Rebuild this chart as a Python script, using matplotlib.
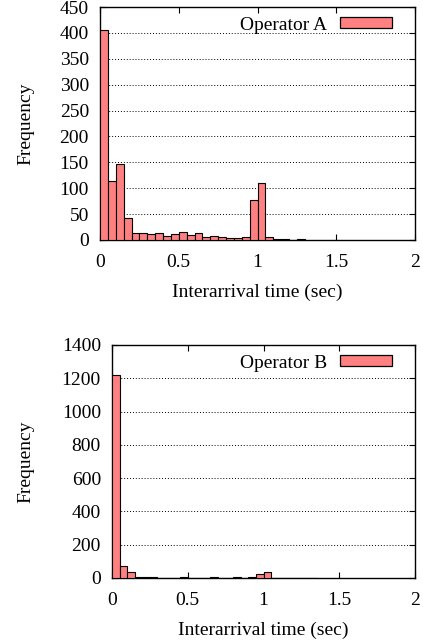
import numpy as np
import matplotlib
matplotlib.use("Agg")
import matplotlib.pyplot as plt
from matplotlib.patches import Patch

plt.rcParams['font.family'] = ['Liberation Serif', 'DejaVu Serif']
plt.rcParams['font.size'] = 14

bin_width = 0.05
# histogram counts per 0.05 s bin, starting at 0
counts_a = [406, 114, 146, 43, 14, 14, 12, 13, 8, 11, 15, 9, 14, 6, 8, 6, 4, 4, 6,
            78, 111, 6, 2, 2, 0, 2]
counts_b = [1222, 74, 38, 5, 5, 4, 3, 2, 3, 4, 2, 3, 3, 5, 3, 3, 4, 3, 4,
            26, 38, 3, 2, 1, 1, 2, 1]
labels = ["Operator A", "Operator B"]
x_ticks = [0, 0.5, 1, 1.5, 2]

bar_color = '#ff8080'
W, H = 423, 640

fig = plt.figure(figsize=(W / 100, H / 100), dpi=100)
ax1 = fig.add_axes([100 / W, 1 - 240 / H, 315 / W, 233 / H])
ax2 = fig.add_axes([112 / W, 1 - 578 / H, 303 / W, 233 / H])


def draw_hist(ax, counts, label, ymax, ystep, left_px, width_px):
    lefts = np.arange(len(counts)) * bin_width
    ax.bar(lefts, counts, width=bin_width, align='edge', color=bar_color,
           edgecolor='black', linewidth=0.8, zorder=3)
    ax.set_xlim(0, 2)
    ax.set_ylim(0, ymax)
    ax.set_xticks(x_ticks)
    ax.set_xticklabels(['0', '0.5', '1', '1.5', '2'])
    ax.set_yticks(np.arange(0, ymax + 1, ystep))
    ax.yaxis.grid(True, linestyle=(0, (1, 2)), color='black', linewidth=0.7, zorder=0)
    ax.tick_params(direction='in', top=True, right=True, length=4, width=0.8, pad=8)
    ax.tick_params(axis='x', pad=10)
    for s in ax.spines.values():
        s.set_linewidth(1.0)
    ax.set_xlabel("Interarrival time (sec)", labelpad=9)
    ax.set_ylabel("Frequency")
    # both y labels sit at the same page position
    ax.yaxis.set_label_coords((34 - left_px) / width_px, 0.5)
    handle = Patch(facecolor=bar_color, edgecolor='black', linewidth=0.9)
    leg = ax.legend([handle], [label], loc='upper right', frameon=False,
                    bbox_to_anchor=((400 - left_px) / width_px, 1 - 2 / 233),
                    markerfirst=False, handlelength=2.7, handleheight=0.5,
                    borderaxespad=0, handletextpad=0.65, fontsize=14)
    leg.set_zorder(5)


draw_hist(ax1, counts_a, labels[0], 450, 50, 100, 315)
draw_hist(ax2, counts_b, labels[1], 1400, 200, 112, 303)

fig.savefig("out.png", dpi=100)
